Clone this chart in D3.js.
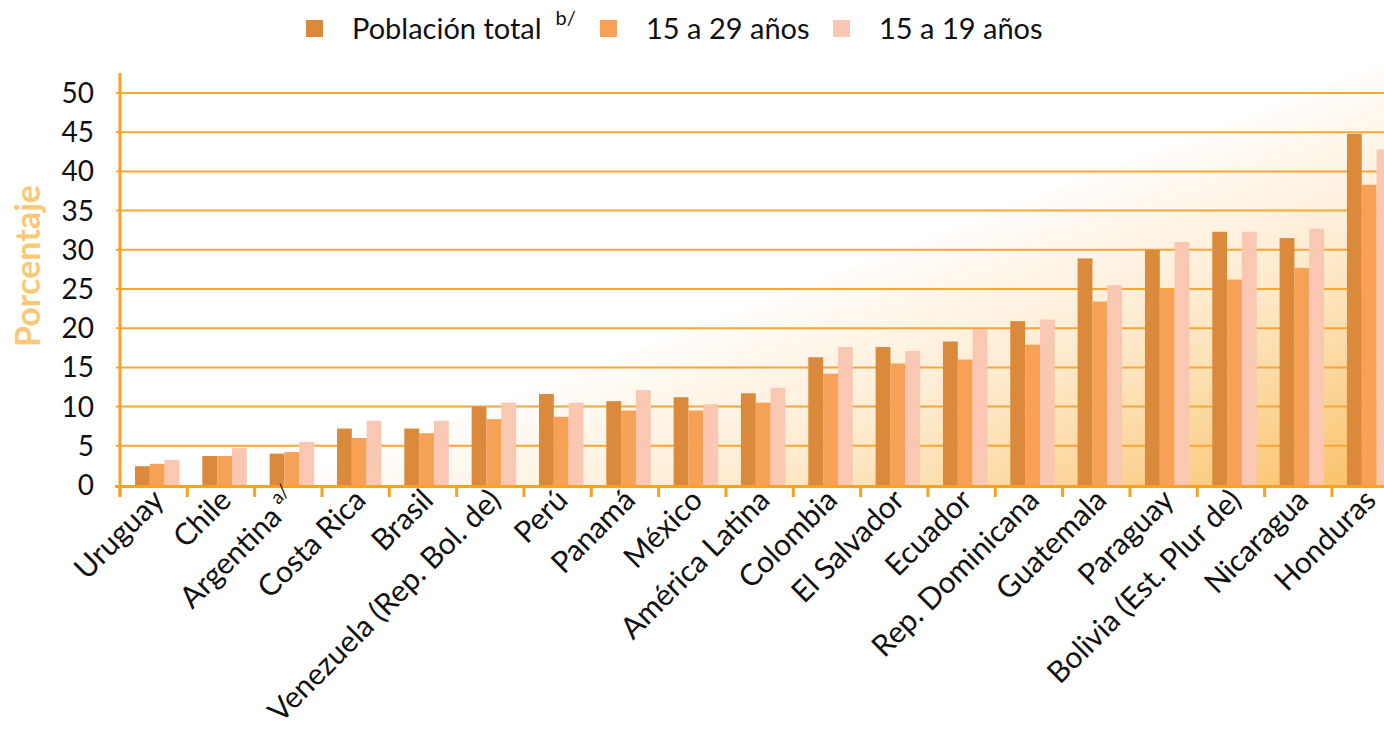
<!DOCTYPE html>
<html>
<head>
<meta charset="utf-8">
<script src="https://cdn.jsdelivr.net/npm/d3@7"></script>
<style>
  body { margin: 0; background: #fff; }
  svg { display: block; font-family: Lato, "Open Sans", sans-serif; }
</style>
</head>
<body>
<div id="chart"></div>
<script>
const width = 1384, height = 730;
const margin = { top: 93, right: 0, bottom: 245, left: 119 };

// Data
const categories = ["Uruguay", "Chile", "Argentina", "Costa Rica", "Brasil",
    "Venezuela (Rep. Bol. de)", "Perú", "Panamá", "México", "América Latina",
    "Colombia", "El Salvador", "Ecuador", "Rep. Dominicana", "Guatemala",
    "Paraguay", "Bolivia (Est. Plur de)", "Nicaragua", "Honduras"];
const notes = { "Argentina": "a/" };
const seriesNames = ["Población total", "15 a 29 años", "15 a 19 años"];
const seriesNotes = ["b/", "", ""];
const poblacionTotal = [2.4, 3.7, 4.0, 7.2, 7.2, 10.0, 11.6, 10.7, 11.2, 11.7,
    16.3, 17.6, 18.3, 20.9, 28.9, 30.0, 32.3, 31.5, 44.8];
const edad15a29 = [2.7, 3.7, 4.2, 6.0, 6.6, 8.4, 8.7, 9.5, 9.5, 10.5,
    14.2, 15.5, 16.0, 17.9, 23.4, 24.9, 26.2, 27.7, 38.3];
const edad15a19 = [3.2, 4.7, 5.5, 8.2, 8.2, 10.5, 10.5, 12.1, 10.3, 12.4,
    17.6, 17.1, 19.9, 21.1, 25.5, 31.0, 32.3, 32.7, 42.8];
const yTicks = [0, 5, 10, 15, 20, 25, 30, 35, 40, 45, 50];
const colors = ["#da8a3a", "#f7a157", "#fac7b2"];

const series = [poblacionTotal, edad15a29, edad15a19];
const rows = categories.map((c, i) => ({ country: c, values: series.map(s => s[i]) }));

const svg = d3.select('#chart')
    .append('svg')
    .attr('width', width)
    .attr('height', height);

// Scales
const x = d3.scaleBand()
    .domain(categories)
    .range([margin.left, margin.left + 67.33 * categories.length])
    .padding(0);

const y = d3.scaleLinear()
    .domain([0, 50])
    .range([485, margin.top]);

const xSub = d3.scaleBand()
    .domain(d3.range(series.length))
    .range([16, 16 + 44.5]);

// Background wedge with gradient
const defs = svg.append("defs");
const grad = defs.append("linearGradient")
    .attr("id", "bg")
    .attr("gradientUnits", "userSpaceOnUse")
    .attr("x1", 1243).attr("y1", 118)
    .attr("x2", 1384).attr("y2", 486);
grad.append("stop").attr("offset", 0).attr("stop-color", "#fffdfa");
grad.append("stop").attr("offset", 0.35).attr("stop-color", "#feedd6");
grad.append("stop").attr("offset", 0.5).attr("stop-color", "#fde4bd");
grad.append("stop").attr("offset", 0.85).attr("stop-color", "#fbcb80");
grad.append("stop").attr("offset", 1).attr("stop-color", "#f9c066");

svg.append("path")
    .attr("d", `M283,486 L${width},486 L${width},64 Z`)
    .attr("fill", "url(#bg)");

// Gridlines
svg.append("g")
    .selectAll("line")
    .data(yTicks.filter(d => d > 0))
    .join("line")
    .attr("x1", 116)
    .attr("x2", width)
    .attr("y1", d => y(d))
    .attr("y2", d => y(d))
    .attr("stroke", "#f8a634")
    .attr("stroke-width", 2);

// Bars
const groups = svg.append("g")
    .selectAll("g")
    .data(rows)
    .join("g")
    .attr("transform", d => `translate(${x(d.country)},0)`);

groups.selectAll("rect")
    .data(d => d.values)
    .join("rect")
    .attr("x", (d, i) => xSub(i))
    .attr("width", xSub.bandwidth())
    .attr("y", d => y(d))
    .attr("height", d => y(0) - y(d))
    .attr("fill", (d, i) => colors[i]);

// Y axis
svg.append("line")
    .attr("x1", 120).attr("x2", 120)
    .attr("y1", 73).attr("y2", 497)
    .attr("stroke", "#f8a21f")
    .attr("stroke-width", 3);

svg.append("g")
    .selectAll("text")
    .data(yTicks)
    .join("text")
    .attr("x", 94)
    .attr("y", d => y(d))
    .attr("dy", "0.36em")
    .attr("text-anchor", "end")
    .attr("font-size", 28)
    .attr("fill", "#111")
    .text(d => d);

svg.append("text")
    .attr("transform", `translate(40,266) rotate(-90)`)
    .attr("text-anchor", "middle")
    .attr("font-size", 34)
    .attr("font-weight", 700)
    .attr("fill", "#fbc878")
    .text("Porcentaje");

// X axis
svg.append("line")
    .attr("x1", 115).attr("x2", width)
    .attr("y1", 486.5).attr("y2", 486.5)
    .attr("stroke", "#f8a21f")
    .attr("stroke-width", 3);

svg.append("g")
    .selectAll("line")
    .data(categories)
    .join("line")
    .attr("x1", d => x(d) + 1)
    .attr("x2", d => x(d) + 1)
    .attr("y1", 486)
    .attr("y2", 497)
    .attr("stroke", "#f8a21f")
    .attr("stroke-width", 3);

const labels = svg.append("g")
    .selectAll("text")
    .data(categories)
    .join("text")
    .attr("text-anchor", "end")
    .attr("font-size", 30)
    .attr("fill", "#111")
    .attr("transform", d => `translate(${x(d) + x.bandwidth() / 2 + 13},${502}) rotate(-45)`);

labels.append("tspan").text(d => d);
labels.filter(d => notes[d])
    .append("tspan")
    .attr("font-size", 19)
    .attr("dy", "-0.7em")
    .attr("dx", 6)
    .text(d => notes[d]);

// Legend
const legendX = [306, 600, 833];
const legend = svg.append("g");
seriesNames.forEach((name, i) => {
    const row = legend.append("g")
        .attr("transform", `translate(${legendX[i]}, 20)`);

    row.append("rect")
        .attr("width", 17)
        .attr("height", 17)
        .attr("fill", colors[i]);

    const t = row.append("text")
        .attr("x", 46)
        .attr("y", 19)
        .attr("font-size", 29)
        .attr("fill", "#111");
    t.append("tspan").text(name);
    if (seriesNotes[i]) {
        t.append("tspan")
            .attr("font-size", 20)
            .attr("dy", "-0.7em")
            .attr("dx", 14)
            .text(seriesNotes[i]);
    }
});
</script>
</body>
</html>
